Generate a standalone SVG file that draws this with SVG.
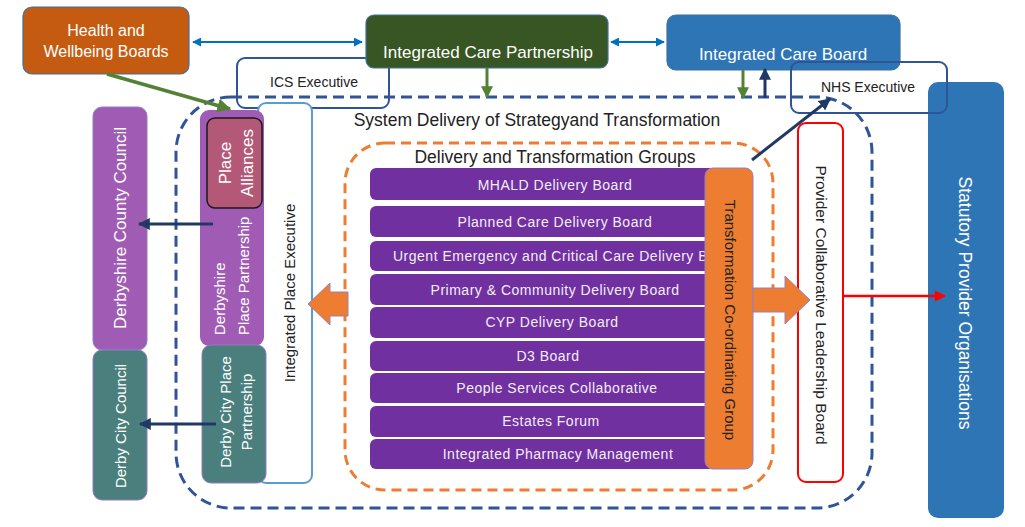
<svg xmlns="http://www.w3.org/2000/svg" width="1025" height="527" viewBox="0 0 1025 527">
<defs>
<style>
text{font-family:"Liberation Sans",Arial,sans-serif;}
.w{fill:#FFFFFF;}
.d{fill:#222222;}
.row{fill:#7030A0;}
.rt{fill:#F2EEF8;font-size:14px;letter-spacing:0.5px;}
.c{text-anchor:middle;dominant-baseline:central;}
</style>
<marker id="mNavy" viewBox="0 0 10 10" refX="9" refY="5" markerWidth="4" markerHeight="4" orient="auto-start-reverse"><path d="M0,0 L10,5 L0,10 z" fill="#203864"/></marker>
<marker id="mGreen" viewBox="0 0 10 10" refX="9" refY="5" markerWidth="4" markerHeight="4" orient="auto-start-reverse"><path d="M0,0 L10,5 L0,10 z" fill="#548235"/></marker>
<marker id="mBlue" viewBox="0 0 10 10" refX="9" refY="5" markerWidth="4.5" markerHeight="4.5" orient="auto-start-reverse"><path d="M0,0 L10,5 L0,10 z" fill="#0070C0"/></marker>
<marker id="mRed" viewBox="0 0 10 10" refX="9" refY="5" markerWidth="4.5" markerHeight="4.5" orient="auto-start-reverse"><path d="M0,0 L10,5 L0,10 z" fill="#FF0000"/></marker>
</defs>
<rect width="1025" height="527" fill="#FFFFFF"/>

<g id="system-delivery">
<rect x="176" y="97" width="696" height="411" rx="55" fill="none" stroke="#2F5597" stroke-width="3" stroke-dasharray="11,6"/>
<text x="537" y="126" font-size="17.5" text-anchor="middle" class="d">System Delivery of Strategyand Transformation</text>
</g>

<g id="delivery-groups">
<rect x="345" y="143" width="428" height="347" rx="40" fill="none" stroke="#ED7D31" stroke-width="3" stroke-dasharray="10,6"/>
<text x="555" y="163" font-size="17.5" text-anchor="middle" class="d">Delivery and Transformation Groups</text>
</g>

<g id="ics-executive">
<rect x="237" y="58" width="152" height="50" rx="8" fill="none" stroke="#2F5597" stroke-width="2"/>
<text x="314" y="87" font-size="14" text-anchor="middle" class="d">ICS Executive</text>
</g>

<g id="hwb">
<rect x="23" y="7" width="166" height="67" rx="9" fill="#C55A11" stroke="#41719C" stroke-width="1.2"/>
<text x="106" y="36" font-size="16" text-anchor="middle" class="w">Health and</text>
<text x="106" y="57" font-size="16" text-anchor="middle" class="w">Wellbeing Boards</text>
</g>

<g id="icp">
<rect x="366" y="15" width="242" height="53" rx="8" fill="#375623" stroke="#41719C" stroke-width="1.2"/>
<text x="488" y="58" font-size="17" text-anchor="middle" class="w">Integrated Care Partnership</text>
</g>

<g id="icb">
<rect x="667" y="15" width="233" height="55" rx="9" fill="#2E75B6" stroke="#41719C" stroke-width="1.2"/>
<text x="783" y="60" font-size="17" text-anchor="middle" class="w">Integrated Care Board</text>
</g>

<g id="statutory">
<rect x="928" y="82" width="76" height="436" rx="10" fill="#2E75B6"/>
<text transform="translate(965,303) rotate(90)" font-size="17.5" class="w c">Statutory Provider Organisations</text>
</g>

<g id="nhs-executive">
<rect x="791" y="62" width="156" height="51" rx="8" fill="none" stroke="#2F5597" stroke-width="2"/>
<text x="868" y="92" font-size="14" text-anchor="middle" class="d">NHS Executive</text>
</g>

<g id="derbyshire-county-council">
<rect x="93" y="107" width="54" height="243" rx="9" fill="#A05CB4" stroke="#8E7CC3" stroke-width="1"/>
<text transform="translate(120,228) rotate(-90)" font-size="17" class="w c">Derbyshire County Council</text>
</g>

<g id="derby-city-council">
<rect x="93" y="350" width="54" height="150" rx="9" fill="#4A7F7D" stroke="#8E7CC3" stroke-width="1"/>
<text transform="translate(120,426) rotate(-90)" font-size="15" class="w c">Derby City Council</text>
</g>

<g id="integrated-place-executive">
<rect x="258" y="103" width="54" height="380" rx="8" fill="#FFFFFF" stroke="#5B9BD5" stroke-width="2"/>
<text transform="translate(289,293) rotate(-90)" font-size="15" class="d c">Integrated Place Executive</text>
</g>

<g id="derbyshire-place-partnership">
<rect x="200" y="110" width="64" height="236" rx="9" fill="#A05CB4"/>
<text transform="translate(219,335) rotate(-90)" font-size="15" class="w" dominant-baseline="central">Derbyshire</text>
<text transform="translate(243,335) rotate(-90)" font-size="15" class="w" dominant-baseline="central">Place Partnership</text>
</g>

<g id="place-alliances">
<rect x="207" y="118" width="55" height="90" rx="8" fill="#B35877" stroke="#1A1A1A" stroke-width="1.5"/>
<text transform="translate(225,163) rotate(-90)" font-size="17" class="w c">Place</text>
<text transform="translate(247,163) rotate(-90)" font-size="17" class="w c">Alliances</text>
</g>

<g id="derby-city-place-partnership">
<rect x="202" y="345" width="64" height="138" rx="9" fill="#4A7F7D" stroke="#8E7CC3" stroke-width="1"/>
<text transform="translate(225,412) rotate(-90)" font-size="15" class="w c">Derby City Place</text>
<text transform="translate(246,412) rotate(-90)" font-size="15" class="w c">Partnership</text>
</g>

<g id="delivery-boards">
<rect class="row" x="370" y="168" width="350" height="32" rx="6"/>
<text class="rt c" x="555" y="185">MHALD Delivery Board</text>
<rect class="row" x="370" y="206" width="350" height="31" rx="6"/>
<text class="rt c" x="555" y="222">Planned Care Delivery Board</text>
<rect class="row" x="370" y="241" width="350" height="30" rx="6"/>
<text class="rt" x="393" y="256" dominant-baseline="central">Urgent Emergency and Critical Care Delivery B</text>
<rect class="row" x="370" y="274" width="350" height="31" rx="6"/>
<text class="rt c" x="555" y="290">Primary &amp; Community Delivery Board</text>
<rect class="row" x="370" y="307" width="350" height="31" rx="6"/>
<text class="rt c" x="552" y="322">CYP Delivery Board</text>
<rect class="row" x="370" y="341" width="350" height="30" rx="6"/>
<text class="rt c" x="548" y="356">D3 Board</text>
<rect class="row" x="370" y="373" width="350" height="30" rx="6"/>
<text class="rt c" x="557" y="388">People Services Collaborative</text>
<rect class="row" x="370" y="406" width="350" height="31" rx="6"/>
<text class="rt c" x="551" y="421">Estates Forum</text>
<rect class="row" x="370" y="439" width="350" height="30" rx="6"/>
<text class="rt c" x="558" y="454">Integrated Pharmacy Management</text>
</g>

<g id="transformation-coordinating-group">
<rect x="705" y="168" width="48" height="301" rx="8" fill="#ED7D31" stroke="#9A7FC0" stroke-width="1"/>
<text transform="translate(730,320) rotate(90)" font-size="15" class="d c">Transformation Co-ordinating Group</text>
</g>

<g id="provider-collaborative">
<rect x="798" y="123" width="45" height="359" rx="8" fill="#FFFFFF" stroke="#FF0000" stroke-width="2"/>
<text transform="translate(821,305) rotate(90)" font-size="15.5" class="d c">Provider Collaborative Leadership Board</text>
</g>

<g id="connectors">
<line x1="193" y1="42" x2="362" y2="42" stroke="#0070C0" stroke-width="2" marker-start="url(#mBlue)" marker-end="url(#mBlue)"/>
<line x1="611" y1="42" x2="664" y2="42" stroke="#0070C0" stroke-width="2" marker-start="url(#mBlue)" marker-end="url(#mBlue)"/>
<line x1="107" y1="74" x2="230" y2="109" stroke="#548235" stroke-width="3.5" marker-end="url(#mGreen)"/>
<line x1="487" y1="68" x2="487" y2="97" stroke="#548235" stroke-width="3" marker-end="url(#mGreen)"/>
<line x1="743" y1="70" x2="743" y2="98" stroke="#548235" stroke-width="3" marker-end="url(#mGreen)"/>
<line x1="765" y1="98" x2="765" y2="69" stroke="#203864" stroke-width="3" marker-end="url(#mNavy)"/>
<line x1="752" y1="160" x2="830" y2="99" stroke="#203864" stroke-width="3" marker-end="url(#mNavy)"/>
<line x1="213" y1="224" x2="139" y2="224" stroke="#203864" stroke-width="3" marker-end="url(#mNavy)"/>
<line x1="216" y1="424" x2="140" y2="424" stroke="#203864" stroke-width="3" marker-end="url(#mNavy)"/>
<line x1="843" y1="296" x2="945" y2="296" stroke="#FF0000" stroke-width="2.5" marker-end="url(#mRed)"/>
<polygon points="348,292 330,292 330,283 308,304 330,325 330,316 348,316" fill="#ED7D31" stroke="#9A7FC0" stroke-width="1"/>
<polygon points="753,288 785,288 785,276 810,300 785,324 785,312 753,312" fill="#ED7D31" stroke="#9A7FC0" stroke-width="1"/>
</g>
</svg>
